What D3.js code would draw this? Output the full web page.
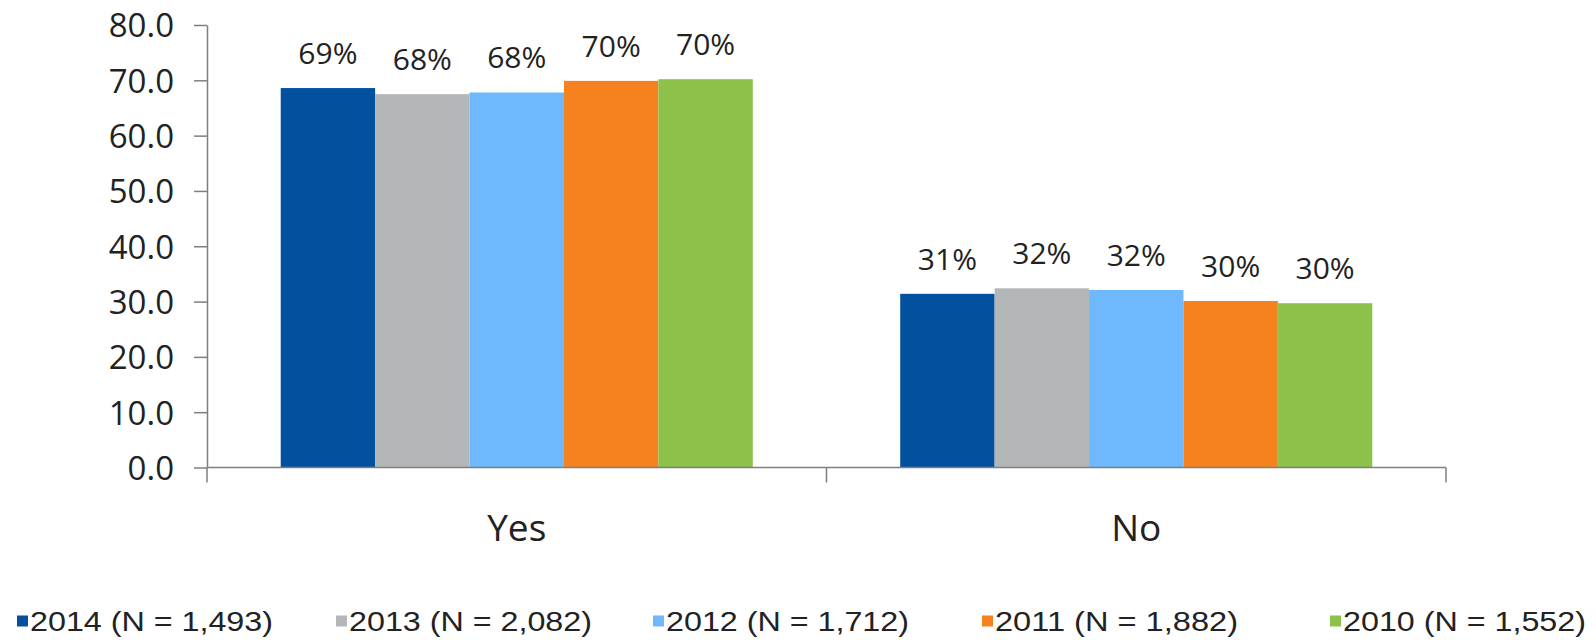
<!DOCTYPE html>
<html>
<head>
<meta charset="utf-8">
<script src="https://cdn.jsdelivr.net/npm/d3@7"></script>
<style>
  html, body { margin: 0; padding: 0; background: #ffffff; }
  svg { display: block; }
</style>
</head>
<body>
<div id="chart"></div>
<script>
// Survey answers by year
const categories = ["Yes", "No"];
const years = ["2014", "2013", "2012", "2011", "2010"];
const sampleSizes = ["1,493", "2,082", "1,712", "1,882", "1,552"];
const valuesYes = [68.6, 67.5, 67.8, 69.9, 70.2];
const valuesNo = [31.4, 32.4, 32.1, 30.1, 29.7];
const yTicks = [0, 10, 20, 30, 40, 50, 60, 70, 80];

const seriesColors = ["#02519f", "#b3b7b8", "#6fb8fd", "#f5821e", "#8cc14a"];

const W = 1596, H = 640;
const plot = { left: 207, right: 1446, top: 25, bottom: 467.5 };
const legendLayout = { x: [17, 336, 653, 982, 1330], y: 621, box: 11, textWidth: 243 };

const rows = categories.map((c, i) => ({
  category: c,
  values: (i === 0 ? valuesYes : valuesNo).map((v, j) => ({ year: years[j], value: v, idx: j }))
}));

const svg = d3.select("#chart").append("svg")
  .attr("width", W).attr("height", H);

const y = d3.scaleLinear().domain([0, 80]).range([plot.bottom, plot.top]);
const x0 = d3.scaleBand().domain(categories).range([plot.left, plot.right])
  .paddingInner(0.238).paddingOuter(0.119);
const x1 = d3.scaleBand().domain(years).range([0, x0.bandwidth()]).padding(0);
const color = d3.scaleOrdinal().domain(years).range(seriesColors);

const axisColor = "#7f7f7f";
const textColor = "#222222";
const labelFont = "'Open Sans', 'Noto Sans', sans-serif";

// Value axis
const yAxis = svg.append("g")
  .attr("transform", `translate(${plot.left},0)`)
  .call(d3.axisLeft(y).tickValues(yTicks).tickFormat(d3.format(".1f"))
    .tickSize(13).tickSizeOuter(0).tickPadding(20));
yAxis.select(".domain").attr("stroke", axisColor).attr("stroke-width", 1.5);
yAxis.selectAll(".tick line").attr("stroke", axisColor).attr("stroke-width", 1.5);
yAxis.selectAll(".tick text")
  .attr("fill", textColor)
  .attr("dy", "0.36em")
  .style("font-family", labelFont)
  .style("font-size", "33px");

// Bars
const groups = svg.append("g").selectAll("g")
  .data(rows).join("g")
  .attr("transform", d => `translate(${x0(d.category)},0)`);

groups.selectAll("rect")
  .data(d => d.values).join("rect")
  .attr("x", d => x1(d.year))
  .attr("y", d => y(d.value))
  .attr("width", x1.bandwidth())
  .attr("height", d => y(0) - y(d.value))
  .attr("fill", d => color(d.year));

// Value labels
groups.selectAll("text.val")
  .data(d => d.values).join("text")
  .attr("class", "val")
  .attr("x", d => x1(d.year) + x1.bandwidth() / 2)
  .attr("y", d => y(d.value) - 24)
  .attr("text-anchor", "middle")
  .attr("fill", textColor)
  .style("font-family", labelFont)
  .style("font-size", "30px")
  .text(d => Math.round(d.value) + "%");

// Category axis with boundary ticks
const xAxis = svg.append("g");
xAxis.append("line")
  .attr("x1", plot.left).attr("x2", plot.right)
  .attr("y1", y(0)).attr("y2", y(0))
  .attr("stroke", axisColor).attr("stroke-width", 1.5);
const bounds = d3.range(categories.length + 1).map(i => plot.left + i * x0.step());
xAxis.selectAll("line.tick")
  .data(bounds).join("line")
  .attr("class", "tick")
  .attr("x1", d => d).attr("x2", d => d)
  .attr("y1", y(0)).attr("y2", y(0) + 15)
  .attr("stroke", axisColor).attr("stroke-width", 1.5);
xAxis.selectAll("text")
  .data(categories).join("text")
  .attr("x", d => x0(d) + x0.bandwidth() / 2)
  .attr("y", 541)
  .attr("text-anchor", "middle")
  .attr("fill", textColor)
  .style("font-family", labelFont)
  .style("font-size", "37px")
  .text(d => d);

// Legend
const legend = svg.append("g").selectAll("g")
  .data(years).join("g")
  .attr("transform", (d, i) => `translate(${legendLayout.x[i]},${legendLayout.y})`);
legend.append("rect")
  .attr("x", 0).attr("y", -legendLayout.box / 2)
  .attr("width", legendLayout.box).attr("height", legendLayout.box)
  .attr("fill", d => color(d));
legend.append("text")
  .attr("x", legendLayout.box + 2)
  .attr("y", 10)
  .attr("fill", textColor)
  .attr("textLength", legendLayout.textWidth)
  .attr("lengthAdjust", "spacingAndGlyphs")
  .style("font-family", "'Liberation Sans', Arial, sans-serif")
  .style("font-size", "28px")
  .text((d, i) => `${d} (N = ${sampleSizes[i]})`);
</script>
</body>
</html>
